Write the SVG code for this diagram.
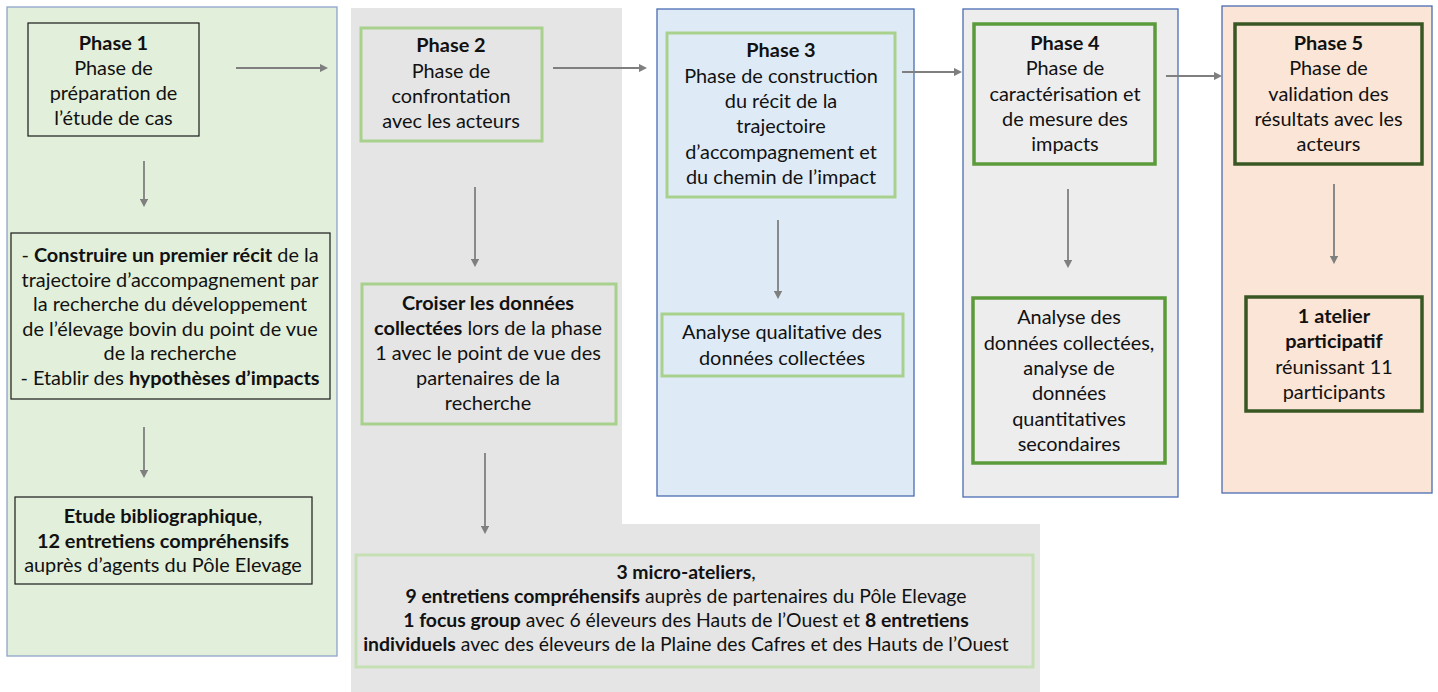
<svg xmlns="http://www.w3.org/2000/svg" width="1438" height="692" viewBox="0 0 1438 692">
<style>
text{font-family:Lato,"Liberation Sans",sans-serif;font-size:19.9px;fill:#111;text-anchor:middle}
.b{font-weight:bold}
.sm{font-size:19.4px}
.conn{stroke:#7F7F7F;stroke-width:1.8;fill:none;marker-end:url(#ah)}
.bx1{fill:none;stroke:#1a1a1a;stroke-width:1.2}
.bxl{fill:none;stroke:#A9D18E;stroke-width:3}
.bxll{fill:none;stroke:#C5E0B4;stroke-width:3}
.bxm{fill:none;stroke:#5B9B3A;stroke-width:3.5}
.bxd{fill:none;stroke:#385723;stroke-width:3.5}
.pan{stroke:#4A6CB3;stroke-width:1.3}
</style>
<defs>
<marker id="ah" viewBox="0 0 10 10" refX="7.5" refY="5" markerUnits="userSpaceOnUse" markerWidth="8.5" markerHeight="8.5" orient="auto">
<path d="M0,0 L10,5 L0,10 z" fill="#7F7F7F"/>
</marker>
</defs>
<rect width="1438" height="692" fill="#FFFFFF"/>

<g id="panels">
<rect id="panel1" x="7" y="7" width="330" height="649" fill="#E2EFDA" stroke="#8EA4CC" stroke-width="1.3"/>
<polygon id="panel2" points="351,8 622,8 622,524 1040,524 1040,692 351,692" fill="#E5E5E5"/>
<rect id="panel3" class="pan" x="657" y="9" width="257" height="487" fill="#DEEBF7"/>
<rect id="panel4" class="pan" x="963" y="9" width="215" height="488" fill="#EDEDED"/>
<rect id="panel5" class="pan" x="1222" y="6" width="210" height="487" fill="#FBE5D6"/>
</g>

<g id="connectors">
<path class="conn" d="M236,68 H326"/>
<path class="conn" d="M144,161 V205"/>
<path class="conn" d="M144,427 V476"/>
<path class="conn" d="M553,68 H645"/>
<path class="conn" d="M475,187 V265"/>
<path class="conn" d="M485,453 V532"/>
<path class="conn" d="M902,72 H960"/>
<path class="conn" d="M778,220 V297"/>
<path class="conn" d="M1166,76 H1220"/>
<path class="conn" d="M1068,189 V266"/>
<path class="conn" d="M1334,184 V262"/>
</g>

<g id="phase1">
<rect class="bx1" x="28" y="23" width="171" height="113"/>
<text x="113.5" y="49.5" class="b">Phase 1</text>
<text x="113.5" y="74.5">Phase de</text>
<text x="113.5" y="100">préparation de</text>
<text x="113.5" y="124.5">l’étude de cas</text>
</g>

<g id="phase1-objectifs">
<rect class="bx1" x="11" y="233" width="319" height="166"/>
<text x="170" y="262">- <tspan class="b">Construire un premier récit</tspan> de la</text>
<text x="170" y="286.5">trajectoire d’accompagnement par</text>
<text x="170" y="311">la recherche du développement</text>
<text x="170" y="335.5">de l’élevage bovin du point de vue</text>
<text x="170" y="360">de la recherche</text>
<text x="170" y="384.5">- Etablir des <tspan class="b">hypothèses d’impacts</tspan></text>
</g>

<g id="phase1-methodes">
<rect class="bx1" x="15" y="497" width="297" height="87"/>
<text x="163" y="523"><tspan class="b">Etude bibliographique</tspan>,</text>
<text x="163" y="547.5" class="b">12 entretiens compréhensifs</text>
<text x="163" y="572">auprès d’agents du Pôle Elevage</text>
</g>

<g id="phase2">
<rect class="bxl" x="361" y="28" width="181" height="113"/>
<text x="451" y="52" class="b">Phase 2</text>
<text x="451" y="77.5">Phase de</text>
<text x="451" y="102.5">confrontation</text>
<text x="451" y="127.5">avec les acteurs</text>
</g>

<g id="phase2-objectifs">
<rect class="bxl" x="362" y="284" width="254" height="140"/>
<text x="488" y="309.5" class="b">Croiser les données</text>
<text x="488" y="334.7"><tspan class="b">collectées</tspan> lors de la phase</text>
<text x="488" y="359.9">1 avec le point de vue des</text>
<text x="488" y="385.1">partenaires de la</text>
<text x="488" y="410.3">recherche</text>
</g>

<g id="phase2-methodes">
<rect class="bxll" x="356" y="555" width="677" height="112"/>
<text x="686" y="579" class="sm"><tspan class="b">3 micro-ateliers</tspan>,</text>
<text x="686" y="603" class="sm"><tspan class="b">9 entretiens compréhensifs</tspan> auprès de partenaires du Pôle Elevage</text>
<text x="686" y="627" class="sm"><tspan class="b">1 focus group</tspan> avec 6 éleveurs des Hauts de l’Ouest et <tspan class="b">8 entretiens</tspan></text>
<text x="686" y="651" class="sm"><tspan class="b">individuels</tspan> avec des éleveurs de la Plaine des Cafres et des Hauts de l’Ouest</text>
</g>

<g id="phase3">
<rect class="bxl" x="667" y="33" width="228" height="164"/>
<text x="781" y="57" class="b">Phase 3</text>
<text x="781" y="82.5">Phase de construction</text>
<text x="781" y="108">du récit de la</text>
<text x="781" y="133">trajectoire</text>
<text x="781" y="158.5">d’accompagnement et</text>
<text x="781" y="184">du chemin de l’impact</text>
</g>

<g id="phase3-analyse">
<rect class="bxl" x="662" y="314" width="241" height="62"/>
<text x="782" y="339">Analyse qualitative des</text>
<text x="782" y="364.5">données collectées</text>
</g>

<g id="phase4">
<rect class="bxm" x="974" y="24" width="181" height="140"/>
<text x="1065" y="49.5" class="b">Phase 4</text>
<text x="1065" y="75">Phase de</text>
<text x="1065" y="100.5">caractérisation et</text>
<text x="1065" y="126">de mesure des</text>
<text x="1065" y="151">impacts</text>
</g>

<g id="phase4-analyse">
<rect class="bxm" x="973" y="298" width="192" height="165"/>
<text x="1069" y="324">Analyse des</text>
<text x="1069" y="349.5">données collectées,</text>
<text x="1069" y="375">analyse de</text>
<text x="1069" y="400">données</text>
<text x="1069" y="425.5">quantitatives</text>
<text x="1069" y="450.5">secondaires</text>
</g>

<g id="phase5">
<rect class="bxd" x="1235" y="24" width="187" height="140"/>
<text x="1328.5" y="49.5" class="b">Phase 5</text>
<text x="1328.5" y="75">Phase de</text>
<text x="1328.5" y="100.5">validation des</text>
<text x="1328.5" y="126">résultats avec les</text>
<text x="1328.5" y="151">acteurs</text>
</g>

<g id="phase5-atelier">
<rect class="bxd" x="1246" y="297" width="176" height="114"/>
<text x="1334" y="323" class="b">1 atelier</text>
<text x="1334" y="348" class="b">participatif</text>
<text x="1334" y="373.5">réunissant 11</text>
<text x="1334" y="399">participants</text>
</g>
</svg>
